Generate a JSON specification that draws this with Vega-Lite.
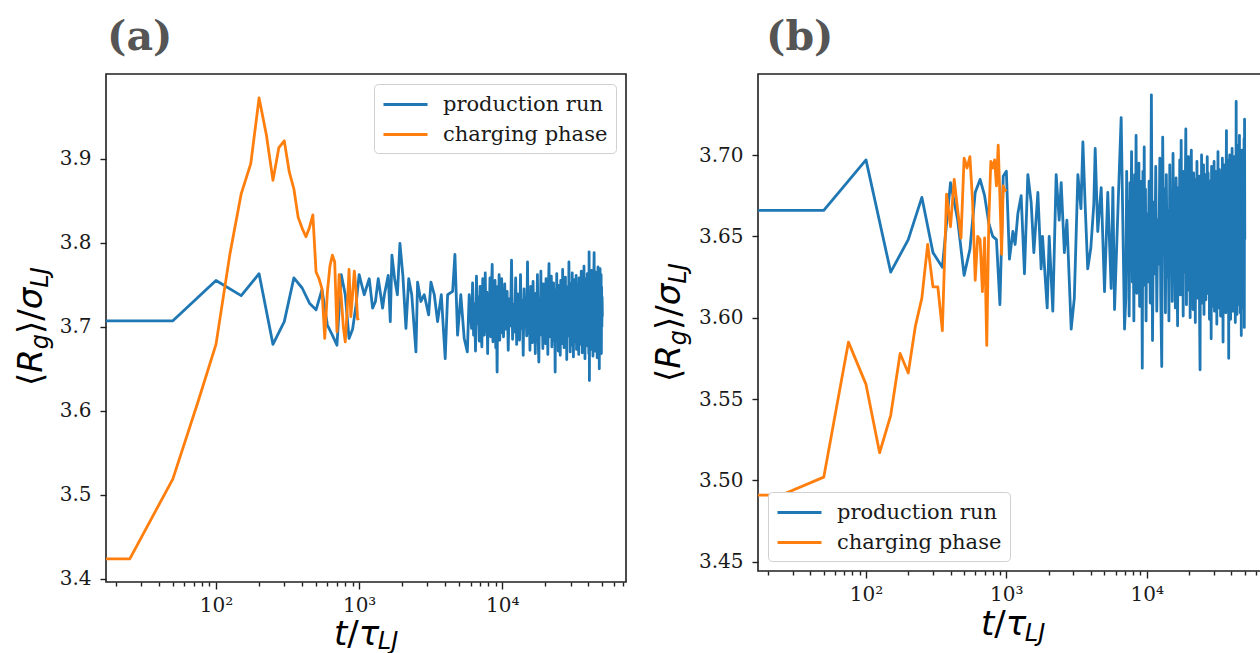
{
  "$schema": "https://vega.github.io/schema/vega-lite/v6.json",
  "background": "white",
  "padding": {"left": 14, "top": 16, "right": 0, "bottom": 0},
  "bounds": "flush",
  "spacing": 132,
  "resolve": {"legend": {"color": "independent"}},
  "config": {
    "view": {"stroke": "#1f1f1f", "strokeWidth": 1.6},
    "axis": {"domain": false, "grid": false, "labelFont": "DejaVu Serif", "labelFontSize": 20, "labelColor": "#1a1a1a", "tickColor": "#1f1f1f", "tickWidth": 1.4, "labelFlush": false, "labelOverlap": false},
    "legend": {"labelFont": "DejaVu Serif", "labelFontSize": 21, "labelColor": "#1a1a1a", "labelLimit": 400, "fillColor": "white", "strokeColor": "#d0d0d0", "cornerRadius": 4, "padding": 8, "symbolType": "M-1,0H3", "symbolSize": 484, "symbolStrokeWidth": 2.8, "labelOffset": 36, "rowPadding": 7}
  },
  "datasets": {
    "prodA": [{"t":10,"r":3.707},{"t":50,"r":3.707},{"t":100,"r":3.755},{"t":150,"r":3.737},{"t":200,"r":3.763},{"t":250,"r":3.679},{"t":300,"r":3.706},{"t":350,"r":3.758},{"t":400,"r":3.746},{"t":450,"r":3.728},{"t":500,"r":3.72},{"t":550,"r":3.744},{"t":600,"r":3.702},{"t":650,"r":3.69},{"t":700,"r":3.678},{"t":750,"r":3.762},{"t":800,"r":3.738},{"t":850,"r":3.686},{"t":900,"r":3.697},{"t":950,"r":3.725},{"t":1000,"r":3.762},{"t":1085,"r":3.738},{"t":1176,"r":3.757},{"t":1242,"r":3.722},{"t":1300,"r":3.73},{"t":1360,"r":3.757},{"t":1459,"r":3.722},{"t":1500,"r":3.738},{"t":1597,"r":3.761},{"t":1650,"r":3.706},{"t":1694,"r":3.785},{"t":1770,"r":3.757},{"t":1850,"r":3.738},{"t":1927,"r":3.799},{"t":2020,"r":3.761},{"t":2123,"r":3.698},{"t":2220,"r":3.757},{"t":2330,"r":3.738},{"t":2493,"r":3.67},{"t":2560,"r":3.753},{"t":2700,"r":3.73},{"t":2850,"r":3.738},{"t":3060,"r":3.714},{"t":3173,"r":3.753},{"t":3350,"r":3.738},{"t":3532,"r":3.706},{"t":3750,"r":3.738},{"t":3992,"r":3.662},{"t":4150,"r":3.738},{"t":4500,"r":3.742},{"t":4667,"r":3.786},{"t":4870,"r":3.69},{"t":5130,"r":3.738},{"t":5420,"r":3.686},{"t":5700,"r":3.67},{"t":5870,"r":3.738},
      {"t":6100,"r":3.698},{"t":6200,"r":3.752},{"t":6300,"r":3.69},{"t":6400,"r":3.727},{"t":6500,"r":3.671},{"t":6600,"r":3.76},{"t":6700,"r":3.704},{"t":6800,"r":3.735},{"t":6900,"r":3.683},{"t":7000,"r":3.748},{"t":7100,"r":3.7},{"t":7200,"r":3.676},{"t":7300,"r":3.757},{"t":7400,"r":3.712},{"t":7500,"r":3.69},{"t":7600,"r":3.764},{"t":7700,"r":3.695},{"t":7800,"r":3.741},{"t":7900,"r":3.668},{"t":8000,"r":3.731},{"t":8100,"r":3.705},{"t":8200,"r":3.758},{"t":8300,"r":3.688},{"t":8400,"r":3.743},{"t":8500,"r":3.774},{"t":8600,"r":3.682},{"t":8700,"r":3.732},{"t":8800,"r":3.697},{"t":8900,"r":3.755},{"t":9000,"r":3.675},{"t":9100,"r":3.72},{"t":9200,"r":3.646},{"t":9300,"r":3.748},{"t":9400,"r":3.702},{"t":9500,"r":3.762},{"t":9600,"r":3.684},{"t":9700,"r":3.74},{"t":9800,"r":3.693},{"t":9900,"r":3.757},{"t":10000,"r":3.71},
      {"t":10200,"r":3.688},{"t":10400,"r":3.751},{"t":10600,"r":3.697},{"t":10800,"r":3.742},{"t":11000,"r":3.672},{"t":11200,"r":3.733},{"t":11400,"r":3.701},{"t":11600,"r":3.779},{"t":11800,"r":3.685},{"t":12000,"r":3.726},
      {"t":12200,"r":3.694},{"t":12400,"r":3.758},{"t":12600,"r":3.679},{"t":12800,"r":3.739},{"t":13000,"r":3.707},{"t":13200,"r":3.684},{"t":13400,"r":3.762},{"t":13600,"r":3.698},{"t":13800,"r":3.731},{"t":14000,"r":3.666},
      {"t":14200,"r":3.745},{"t":14400,"r":3.703},{"t":14600,"r":3.727},{"t":14800,"r":3.689},{"t":15000,"r":3.777},{"t":15200,"r":3.692},{"t":15400,"r":3.736},{"t":15600,"r":3.672},{"t":15800,"r":3.748},{"t":16000,"r":3.71},
      {"t":16200,"r":3.681},{"t":16400,"r":3.754},{"t":16600,"r":3.699},{"t":16800,"r":3.724},{"t":17000,"r":3.668},{"t":17200,"r":3.74},{"t":17400,"r":3.706},{"t":17600,"r":3.762},{"t":17800,"r":3.686},{"t":18000,"r":3.658},
      {"t":18200,"r":3.734},{"t":18400,"r":3.697},{"t":18600,"r":3.766},{"t":18800,"r":3.69},{"t":19000,"r":3.729},{"t":19200,"r":3.674},{"t":19400,"r":3.751},{"t":19600,"r":3.702},{"t":19800,"r":3.738},{"t":20000,"r":3.68},
      {"t":20200,"r":3.757},{"t":20400,"r":3.694},{"t":20600,"r":3.721},{"t":20800,"r":3.667},{"t":21000,"r":3.746},{"t":21200,"r":3.775},{"t":21400,"r":3.688},{"t":21600,"r":3.733},{"t":21800,"r":3.699},{"t":22000,"r":3.76},
      {"t":22200,"r":3.676},{"t":22400,"r":3.739},{"t":22600,"r":3.704},{"t":22800,"r":3.752},{"t":23000,"r":3.683},{"t":23200,"r":3.726},{"t":23400,"r":3.646},{"t":23600,"r":3.744},{"t":23800,"r":3.695},{"t":24000,"r":3.763},
      {"t":24200,"r":3.687},{"t":24400,"r":3.73},{"t":24600,"r":3.671},{"t":24800,"r":3.749},{"t":25000,"r":3.703},{"t":25200,"r":3.737},{"t":25400,"r":3.666},{"t":25600,"r":3.755},{"t":25800,"r":3.692},{"t":26000,"r":3.728},
      {"t":26200,"r":3.68},{"t":26400,"r":3.768},{"t":26600,"r":3.698},{"t":26800,"r":3.741},{"t":27000,"r":3.675},{"t":27200,"r":3.733},{"t":27400,"r":3.707},{"t":27600,"r":3.759},{"t":27800,"r":3.684},{"t":28000,"r":3.722},
      {"t":28200,"r":3.661},{"t":28400,"r":3.747},{"t":28600,"r":3.7},{"t":28800,"r":3.736},{"t":29000,"r":3.689},{"t":29200,"r":3.777},{"t":29400,"r":3.694},{"t":29600,"r":3.729},{"t":29800,"r":3.67},{"t":30000,"r":3.751},
      {"t":30200,"r":3.705},{"t":30400,"r":3.739},{"t":30600,"r":3.678},{"t":30800,"r":3.764},{"t":31000,"r":3.691},{"t":31200,"r":3.725},{"t":31400,"r":3.664},{"t":31600,"r":3.743},{"t":31800,"r":3.699},{"t":32000,"r":3.756},
      {"t":32200,"r":3.682},{"t":32400,"r":3.731},{"t":32600,"r":3.708},{"t":32800,"r":3.761},{"t":33000,"r":3.673},{"t":33200,"r":3.738},{"t":33400,"r":3.696},{"t":33600,"r":3.75},{"t":33800,"r":3.686},{"t":34000,"r":3.727},
      {"t":34200,"r":3.667},{"t":34400,"r":3.758},{"t":34600,"r":3.701},{"t":34800,"r":3.74},{"t":35000,"r":3.679},{"t":35200,"r":3.734},{"t":35400,"r":3.693},{"t":35600,"r":3.766},{"t":35800,"r":3.688},{"t":36000,"r":3.724},
      {"t":36200,"r":3.669},{"t":36400,"r":3.749},{"t":36600,"r":3.704},{"t":36800,"r":3.737},{"t":37000,"r":3.676},{"t":37200,"r":3.772},{"t":37400,"r":3.69},{"t":37600,"r":3.73},{"t":37800,"r":3.662},{"t":38000,"r":3.745},
      {"t":38200,"r":3.698},{"t":38400,"r":3.757},{"t":38600,"r":3.683},{"t":38800,"r":3.735},{"t":39000,"r":3.705},{"t":39200,"r":3.763},{"t":39400,"r":3.677},{"t":39600,"r":3.741},{"t":39800,"r":3.694},{"t":40000,"r":3.728},
      {"t":40200,"r":3.668},{"t":40400,"r":3.789},{"t":40600,"r":3.636},{"t":40800,"r":3.744},{"t":41000,"r":3.692},{"t":41200,"r":3.752},{"t":41400,"r":3.68},{"t":41600,"r":3.733},{"t":41800,"r":3.699},{"t":42000,"r":3.767},
      {"t":42200,"r":3.673},{"t":42400,"r":3.738},{"t":42600,"r":3.706},{"t":42800,"r":3.755},{"t":43000,"r":3.665},{"t":43200,"r":3.731},{"t":43400,"r":3.694},{"t":43600,"r":3.76},{"t":43800,"r":3.788},{"t":44000,"r":3.683},
      {"t":44200,"r":3.727},{"t":44400,"r":3.671},{"t":44600,"r":3.748},{"t":44800,"r":3.697},{"t":45000,"r":3.765},{"t":45200,"r":3.681},{"t":45400,"r":3.736},{"t":45600,"r":3.702},{"t":45800,"r":3.759},{"t":46000,"r":3.663},
      {"t":46200,"r":3.742},{"t":46400,"r":3.689},{"t":46600,"r":3.771},{"t":46800,"r":3.678},{"t":47000,"r":3.733},{"t":47200,"r":3.696},{"t":47400,"r":3.754},{"t":47600,"r":3.65},{"t":47800,"r":3.74},{"t":48000,"r":3.69},
      {"t":48200,"r":3.769},{"t":48400,"r":3.675},{"t":48600,"r":3.731},{"t":48800,"r":3.684},{"t":49000,"r":3.762},{"t":49200,"r":3.668},{"t":49400,"r":3.747},{"t":49600,"r":3.7},{"t":49800,"r":3.735},{"t":50000,"r":3.712}],
    "chargeA": [{"t":10,"r":3.424},{"t":25,"r":3.424},{"t":50,"r":3.519},{"t":75,"r":3.611},{"t":100,"r":3.679},{"t":125,"r":3.786},{"t":150,"r":3.858},{"t":175,"r":3.894},{"t":200,"r":3.972},{"t":225,"r":3.928},{"t":250,"r":3.874},{"t":275,"r":3.913},{"t":300,"r":3.921},{"t":325,"r":3.884},{"t":350,"r":3.864},{"t":375,"r":3.83},{"t":400,"r":3.817},{"t":425,"r":3.807},{"t":450,"r":3.818},{"t":475,"r":3.833},{"t":500,"r":3.765},{"t":525,"r":3.757},{"t":550,"r":3.745},{"t":575,"r":3.686},{"t":600,"r":3.741},{"t":625,"r":3.772},{"t":650,"r":3.785},{"t":675,"r":3.777},{"t":700,"r":3.694},{"t":725,"r":3.762},{"t":750,"r":3.735},{"t":775,"r":3.7},{"t":800,"r":3.682},{"t":825,"r":3.72},{"t":850,"r":3.768},{"t":875,"r":3.712},{"t":900,"r":3.738},{"t":925,"r":3.766},{"t":950,"r":3.745},{"t":975,"r":3.709},{"t":1000,"r":3.71}],
    "prodB": [{"t":10,"r":3.666},{"t":50,"r":3.666},{"t":100,"r":3.697},{"t":150,"r":3.628},{"t":200,"r":3.648},{"t":250,"r":3.674},{"t":300,"r":3.64},{"t":350,"r":3.631},{"t":400,"r":3.683},{"t":450,"r":3.66},{"t":500,"r":3.626},{"t":550,"r":3.642},{"t":600,"r":3.677},{"t":650,"r":3.685},{"t":700,"r":3.675},{"t":750,"r":3.658},{"t":800,"r":3.65},{"t":850,"r":3.648},{"t":900,"r":3.608},{"t":950,"r":3.687},{"t":1000,"r":3.69},{"t":1052,"r":3.636},{"t":1113,"r":3.653},{"t":1155,"r":3.645},{"t":1208,"r":3.664},{"t":1275,"r":3.675},{"t":1346,"r":3.627},{"t":1423,"r":3.688},{"t":1502,"r":3.671},{"t":1570,"r":3.64},{"t":1677,"r":3.677},{"t":1770,"r":3.63},{"t":1810,"r":3.65},{"t":1954,"r":3.606},{"t":2020,"r":3.65},{"t":2143,"r":3.604},{"t":2264,"r":3.688},{"t":2380,"r":3.66},{"t":2458,"r":3.683},{"t":2590,"r":3.64},{"t":2700,"r":3.66},{"t":2897,"r":3.593},{"t":3050,"r":3.612},{"t":3233,"r":3.688},{"t":3400,"r":3.667},{"t":3510,"r":3.708},{"t":3640,"r":3.67},{"t":3800,"r":3.63},{"t":4000,"r":3.643},{"t":4200,"r":3.67},{"t":4295,"r":3.704},{"t":4480,"r":3.653},{"t":4740,"r":3.68},{"t":5005,"r":3.616},{"t":5280,"r":3.677},{"t":5580,"r":3.618},{"t":5740,"r":3.68},{"t":5900,"r":3.605},{"t":6230,"r":3.665},{"t":6577,"r":3.723},{"t":6950,"r":3.593},
      {"t":7100,"r":3.612},{"t":7200,"r":3.69},{"t":7300,"r":3.628},{"t":7400,"r":3.671},{"t":7500,"r":3.601},{"t":7600,"r":3.683},{"t":7700,"r":3.64},{"t":7800,"r":3.702},{"t":7900,"r":3.622},{"t":8000,"r":3.667},{"t":8100,"r":3.598},{"t":8200,"r":3.688},{"t":8300,"r":3.634},{"t":8400,"r":3.712},{"t":8500,"r":3.615},{"t":8600,"r":3.676},{"t":8700,"r":3.643},{"t":8800,"r":3.695},{"t":8900,"r":3.607},{"t":9000,"r":3.684},{"t":9100,"r":3.626},{"t":9200,"r":3.661},{"t":9300,"r":3.569},{"t":9400,"r":3.69},{"t":9500,"r":3.62},{"t":9600,"r":3.705},{"t":9700,"r":3.632},{"t":9800,"r":3.679},{"t":9900,"r":3.598},{"t":10000,"r":3.664},
      {"t":10200,"r":3.622},{"t":10400,"r":3.684},{"t":10600,"r":3.609},{"t":10800,"r":3.737},{"t":11000,"r":3.586},{"t":11200,"r":3.671},{"t":11400,"r":3.627},{"t":11600,"r":3.693},{"t":11800,"r":3.604},{"t":12000,"r":3.66},
      {"t":12200,"r":3.633},{"t":12400,"r":3.698},{"t":12600,"r":3.612},{"t":12800,"r":3.57},{"t":13000,"r":3.711},{"t":13200,"r":3.641},{"t":13400,"r":3.679},{"t":13600,"r":3.603},{"t":13800,"r":3.688},{"t":14000,"r":3.625},
      {"t":14200,"r":3.666},{"t":14400,"r":3.598},{"t":14600,"r":3.694},{"t":14800,"r":3.637},{"t":15000,"r":3.675},{"t":15200,"r":3.61},{"t":15400,"r":3.701},{"t":15600,"r":3.631},{"t":15800,"r":3.662},{"t":16000,"r":3.606},
      {"t":16200,"r":3.686},{"t":16400,"r":3.644},{"t":16600,"r":3.595},{"t":16800,"r":3.68},{"t":17000,"r":3.623},{"t":17200,"r":3.697},{"t":17400,"r":3.614},{"t":17600,"r":3.709},{"t":17800,"r":3.635},{"t":18000,"r":3.668},
      {"t":18200,"r":3.601},{"t":18400,"r":3.69},{"t":18600,"r":3.628},{"t":18800,"r":3.673},{"t":19000,"r":3.716},{"t":19200,"r":3.608},{"t":19400,"r":3.683},{"t":19600,"r":3.639},{"t":19800,"r":3.699},{"t":20000,"r":3.617},
      {"t":20200,"r":3.664},{"t":20400,"r":3.6},{"t":20600,"r":3.692},{"t":20800,"r":3.703},{"t":21000,"r":3.626},{"t":21200,"r":3.677},{"t":21400,"r":3.605},{"t":21600,"r":3.689},{"t":21800,"r":3.642},{"t":22000,"r":3.67},
      {"t":22200,"r":3.597},{"t":22400,"r":3.685},{"t":22600,"r":3.632},{"t":22800,"r":3.696},{"t":23000,"r":3.612},{"t":23200,"r":3.658},{"t":23400,"r":3.621},{"t":23600,"r":3.687},{"t":23800,"r":3.603},{"t":24000,"r":3.568},
      {"t":24200,"r":3.681},{"t":24400,"r":3.636},{"t":24600,"r":3.7},{"t":24800,"r":3.609},{"t":25000,"r":3.672},{"t":25200,"r":3.63},{"t":25400,"r":3.694},{"t":25600,"r":3.602},{"t":25800,"r":3.667},{"t":26000,"r":3.624},
      {"t":26200,"r":3.688},{"t":26400,"r":3.611},{"t":26600,"r":3.676},{"t":26800,"r":3.645},{"t":27000,"r":3.699},{"t":27200,"r":3.615},{"t":27400,"r":3.689},{"t":27600,"r":3.629},{"t":27800,"r":3.661},{"t":28000,"r":3.599},
      {"t":28200,"r":3.684},{"t":28400,"r":3.637},{"t":28600,"r":3.671},{"t":28800,"r":3.587},{"t":29000,"r":3.693},{"t":29200,"r":3.62},{"t":29400,"r":3.665},{"t":29600,"r":3.607},{"t":29800,"r":3.686},{"t":30000,"r":3.641},
      {"t":30200,"r":3.696},{"t":30400,"r":3.604},{"t":30600,"r":3.674},{"t":30800,"r":3.628},{"t":31000,"r":3.69},{"t":31200,"r":3.613},{"t":31400,"r":3.66},{"t":31600,"r":3.596},{"t":31800,"r":3.683},{"t":32000,"r":3.634},
      {"t":32200,"r":3.702},{"t":32400,"r":3.618},{"t":32600,"r":3.669},{"t":32800,"r":3.606},{"t":33000,"r":3.691},{"t":33200,"r":3.639},{"t":33400,"r":3.677},{"t":33600,"r":3.601},{"t":33800,"r":3.687},{"t":34000,"r":3.625},
      {"t":34200,"r":3.663},{"t":34400,"r":3.61},{"t":34600,"r":3.698},{"t":34800,"r":3.632},{"t":35000,"r":3.585},{"t":35200,"r":3.679},{"t":35400,"r":3.622},{"t":35600,"r":3.694},{"t":35800,"r":3.608},{"t":36000,"r":3.67},
      {"t":36200,"r":3.635},{"t":36400,"r":3.689},{"t":36600,"r":3.603},{"t":36800,"r":3.682},{"t":37000,"r":3.715},{"t":37200,"r":3.617},{"t":37400,"r":3.666},{"t":37600,"r":3.627},{"t":37800,"r":3.697},{"t":38000,"r":3.605},
      {"t":38200,"r":3.673},{"t":38400,"r":3.575},{"t":38600,"r":3.686},{"t":38800,"r":3.631},{"t":39000,"r":3.7},{"t":39200,"r":3.614},{"t":39400,"r":3.662},{"t":39600,"r":3.599},{"t":39800,"r":3.691},{"t":40000,"r":3.638},
      {"t":40200,"r":3.676},{"t":40400,"r":3.609},{"t":40600,"r":3.704},{"t":40800,"r":3.623},{"t":41000,"r":3.668},{"t":41200,"r":3.604},{"t":41400,"r":3.695},{"t":41600,"r":3.64},{"t":41800,"r":3.681},{"t":42000,"r":3.611},
      {"t":42200,"r":3.699},{"t":42400,"r":3.626},{"t":42600,"r":3.664},{"t":42800,"r":3.597},{"t":43000,"r":3.69},{"t":43200,"r":3.633},{"t":43400,"r":3.733},{"t":43600,"r":3.615},{"t":43800,"r":3.678},{"t":44000,"r":3.602},
      {"t":44200,"r":3.694},{"t":44400,"r":3.637},{"t":44600,"r":3.671},{"t":44800,"r":3.608},{"t":45000,"r":3.706},{"t":45200,"r":3.621},{"t":45400,"r":3.685},{"t":45600,"r":3.63},{"t":45800,"r":3.712},{"t":46000,"r":3.612},
      {"t":46200,"r":3.674},{"t":46400,"r":3.603},{"t":46600,"r":3.697},{"t":46800,"r":3.639},{"t":47000,"r":3.665},{"t":47200,"r":3.589},{"t":47400,"r":3.692},{"t":47600,"r":3.624},{"t":47800,"r":3.703},{"t":48000,"r":3.61},
      {"t":48200,"r":3.681},{"t":48400,"r":3.635},{"t":48600,"r":3.698},{"t":48800,"r":3.606},{"t":49000,"r":3.676},{"t":49200,"r":3.628},{"t":49400,"r":3.71},{"t":49600,"r":3.594},{"t":49800,"r":3.722},{"t":50000,"r":3.648}],
    "chargeB": [{"t":10,"r":3.491},{"t":25,"r":3.491},{"t":50,"r":3.502},{"t":75,"r":3.585},{"t":100,"r":3.559},{"t":125,"r":3.517},{"t":150,"r":3.54},{"t":175,"r":3.578},{"t":200,"r":3.566},{"t":225,"r":3.595},{"t":250,"r":3.612},{"t":275,"r":3.645},{"t":300,"r":3.619},{"t":325,"r":3.619},{"t":350,"r":3.592},{"t":375,"r":3.676},{"t":400,"r":3.656},{"t":425,"r":3.685},{"t":450,"r":3.666},{"t":475,"r":3.649},{"t":500,"r":3.698},{"t":525,"r":3.692},{"t":550,"r":3.699},{"t":575,"r":3.671},{"t":600,"r":3.623},{"t":625,"r":3.65},{"t":650,"r":3.648},{"t":675,"r":3.616},{"t":700,"r":3.649},{"t":725,"r":3.583},{"t":750,"r":3.66},{"t":775,"r":3.696},{"t":800,"r":3.692},{"t":825,"r":3.697},{"t":850,"r":3.681},{"t":875,"r":3.706},{"t":900,"r":3.674},{"t":925,"r":3.639},{"t":950,"r":3.681},{"t":975,"r":3.678},{"t":1000,"r":3.679}]
  },
  "hconcat": [
    {
      "width": 520,
      "height": 508,
      "layer": [
        {
          "data": {"name": "prodA"},
          "mark": {"type": "line", "clip": true, "strokeWidth": 2.8, "strokeJoin": "round"},
          "encoding": {
            "x": {"field": "t", "type": "quantitative", "scale": {"type": "log", "domain": [17.05, 73130], "nice": false},
              "axis": {"title": null, "values": [20,30,40,50,60,70,80,90,100,200,300,400,500,600,700,800,900,1000,2000,3000,4000,5000,6000,7000,8000,9000,10000,20000,30000,40000,50000,60000,70000],
                "labelExpr": "datum.value === 100 ? '10²' : datum.value === 1000 ? '10³' : datum.value === 10000 ? '10⁴' : ''",
                "tickSize": {"condition": {"test": "datum.value === 100 || datum.value === 1000 || datum.value === 10000", "value": 7}, "value": 4},
                "labelPadding": 6}},
            "y": {"field": "r", "type": "quantitative", "scale": {"domain": [3.3964, 4.0005], "nice": false, "zero": false},
              "axis": {"title": null, "values": [3.4,3.5,3.6,3.7,3.8,3.9], "format": ".1f", "tickSize": 6, "labelPadding": 9}},
            "color": {"datum": "production run", "type": "nominal", "scale": {"domain": ["production run", "charging phase"], "range": ["#1f77b4", "#ff7f0e"]}, "legend": {"title": null, "orient": "top-right", "offset": 10}}
          }
        },
        {
          "data": {"name": "chargeA"},
          "mark": {"type": "line", "clip": true, "strokeWidth": 2.8, "strokeJoin": "round"},
          "encoding": {
            "x": {"field": "t", "type": "quantitative"},
            "y": {"field": "r", "type": "quantitative"},
            "color": {"datum": "charging phase", "type": "nominal"}
          }
        },
        {"data": {"values": [{}]}, "mark": {"type": "text", "text": "(a)", "font": "DejaVu Serif", "fontWeight": "bold", "fontSize": 41, "color": "#555555", "align": "left", "baseline": "alphabetic"}, "encoding": {"x": {"value": 1}, "y": {"value": -24}}},
        {"data": {"values": [{}]}, "mark": {"type": "text", "text": "⟨", "font": "DejaVu Sans", "fontSize": 34, "color": "#000", "angle": 270, "align": "left", "baseline": "alphabetic", "dx": 0}, "encoding": {"x": {"value": -64}, "y": {"value": 312}}},
        {"data": {"values": [{}]}, "mark": {"type": "text", "text": "R", "font": "DejaVu Sans", "fontStyle": "italic", "fontSize": 34, "color": "#000", "angle": 270, "align": "left", "baseline": "alphabetic", "dx": 13.3}, "encoding": {"x": {"value": -64}, "y": {"value": 312}}},
        {"data": {"values": [{}]}, "mark": {"type": "text", "text": "g", "font": "DejaVu Sans", "fontStyle": "italic", "fontSize": 24, "color": "#000", "angle": 270, "align": "left", "baseline": "alphabetic", "dx": 36.8, "dy": 6}, "encoding": {"x": {"value": -64}, "y": {"value": 312}}},
        {"data": {"values": [{}]}, "mark": {"type": "text", "text": "⟩/", "font": "DejaVu Sans", "fontSize": 34, "color": "#000", "angle": 270, "align": "left", "baseline": "alphabetic", "dx": 51.9}, "encoding": {"x": {"value": -64}, "y": {"value": 312}}},
        {"data": {"values": [{}]}, "mark": {"type": "text", "text": "σ", "font": "DejaVu Sans", "fontStyle": "italic", "fontSize": 34, "color": "#000", "angle": 270, "align": "left", "baseline": "alphabetic", "dx": 76.7}, "encoding": {"x": {"value": -64}, "y": {"value": 312}}},
        {"data": {"values": [{}]}, "mark": {"type": "text", "text": "LJ", "font": "DejaVu Sans", "fontStyle": "italic", "fontSize": 24, "color": "#000", "angle": 270, "align": "left", "baseline": "alphabetic", "dx": 98.3, "dy": 6}, "encoding": {"x": {"value": -64}, "y": {"value": 312}}},
        {"data": {"values": [{}]}, "mark": {"type": "text", "text": "t", "font": "DejaVu Sans", "fontStyle": "italic", "fontSize": 34, "color": "#000", "align": "left", "baseline": "alphabetic", "dx": 0}, "encoding": {"x": {"value": 228}, "y": {"value": 571}}},
        {"data": {"values": [{}]}, "mark": {"type": "text", "text": "/", "font": "DejaVu Sans", "fontSize": 34, "color": "#000", "align": "left", "baseline": "alphabetic", "dx": 13.3}, "encoding": {"x": {"value": 228}, "y": {"value": 571}}},
        {"data": {"values": [{}]}, "mark": {"type": "text", "text": "τ", "font": "DejaVu Sans", "fontStyle": "italic", "fontSize": 34, "color": "#000", "align": "left", "baseline": "alphabetic", "dx": 24.8}, "encoding": {"x": {"value": 228}, "y": {"value": 571}}},
        {"data": {"values": [{}]}, "mark": {"type": "text", "text": "LJ", "font": "DejaVu Sans", "fontStyle": "italic", "fontSize": 24, "color": "#000", "align": "left", "baseline": "alphabetic", "dx": 43.8, "dy": 4}, "encoding": {"x": {"value": 228}, "y": {"value": 571}}}
      ]
    },
    {
      "width": 510,
      "height": 497,
      "layer": [
        {
          "data": {"name": "prodB"},
          "mark": {"type": "line", "clip": true, "strokeWidth": 2.8, "strokeJoin": "round"},
          "encoding": {
            "x": {"field": "t", "type": "quantitative", "scale": {"type": "log", "domain": [17.0, 73160], "nice": false},
              "axis": {"title": null, "values": [20,30,40,50,60,70,80,90,100,200,300,400,500,600,700,800,900,1000,2000,3000,4000,5000,6000,7000,8000,9000,10000,20000,30000,40000,50000,60000,70000],
                "labelExpr": "datum.value === 100 ? '10²' : datum.value === 1000 ? '10³' : datum.value === 10000 ? '10⁴' : ''",
                "tickSize": {"condition": {"test": "datum.value === 100 || datum.value === 1000 || datum.value === 10000", "value": 7}, "value": 4},
                "labelPadding": 6}},
            "y": {"field": "r", "type": "quantitative", "scale": {"domain": [3.4443, 3.7498], "nice": false, "zero": false},
              "axis": {"title": null, "values": [3.45,3.5,3.55,3.6,3.65,3.7], "format": ".2f", "tickSize": 6, "labelPadding": 9}},
            "color": {"datum": "production run", "type": "nominal", "scale": {"domain": ["production run", "charging phase"], "range": ["#1f77b4", "#ff7f0e"]}, "legend": {"title": null, "orient": "bottom-left", "offset": 10}}
          }
        },
        {
          "data": {"name": "chargeB"},
          "mark": {"type": "line", "clip": true, "strokeWidth": 2.8, "strokeJoin": "round"},
          "encoding": {
            "x": {"field": "t", "type": "quantitative"},
            "y": {"field": "r", "type": "quantitative"},
            "color": {"datum": "charging phase", "type": "nominal"}
          }
        },
        {"data": {"values": [{}]}, "mark": {"type": "text", "text": "(b)", "font": "DejaVu Serif", "fontWeight": "bold", "fontSize": 41, "color": "#555555", "align": "left", "baseline": "alphabetic"}, "encoding": {"x": {"value": 8}, "y": {"value": -24}}},
        {"data": {"values": [{}]}, "mark": {"type": "text", "text": "⟨", "font": "DejaVu Sans", "fontSize": 34, "color": "#000", "angle": 270, "align": "left", "baseline": "alphabetic", "dx": 0}, "encoding": {"x": {"value": -78}, "y": {"value": 308}}},
        {"data": {"values": [{}]}, "mark": {"type": "text", "text": "R", "font": "DejaVu Sans", "fontStyle": "italic", "fontSize": 34, "color": "#000", "angle": 270, "align": "left", "baseline": "alphabetic", "dx": 13.3}, "encoding": {"x": {"value": -78}, "y": {"value": 308}}},
        {"data": {"values": [{}]}, "mark": {"type": "text", "text": "g", "font": "DejaVu Sans", "fontStyle": "italic", "fontSize": 24, "color": "#000", "angle": 270, "align": "left", "baseline": "alphabetic", "dx": 36.8, "dy": 6}, "encoding": {"x": {"value": -78}, "y": {"value": 308}}},
        {"data": {"values": [{}]}, "mark": {"type": "text", "text": "⟩/", "font": "DejaVu Sans", "fontSize": 34, "color": "#000", "angle": 270, "align": "left", "baseline": "alphabetic", "dx": 51.9}, "encoding": {"x": {"value": -78}, "y": {"value": 308}}},
        {"data": {"values": [{}]}, "mark": {"type": "text", "text": "σ", "font": "DejaVu Sans", "fontStyle": "italic", "fontSize": 34, "color": "#000", "angle": 270, "align": "left", "baseline": "alphabetic", "dx": 76.7}, "encoding": {"x": {"value": -78}, "y": {"value": 308}}},
        {"data": {"values": [{}]}, "mark": {"type": "text", "text": "LJ", "font": "DejaVu Sans", "fontStyle": "italic", "fontSize": 24, "color": "#000", "angle": 270, "align": "left", "baseline": "alphabetic", "dx": 98.3, "dy": 6}, "encoding": {"x": {"value": -78}, "y": {"value": 308}}},
        {"data": {"values": [{}]}, "mark": {"type": "text", "text": "t", "font": "DejaVu Sans", "fontStyle": "italic", "fontSize": 34, "color": "#000", "align": "left", "baseline": "alphabetic", "dx": 0}, "encoding": {"x": {"value": 223}, "y": {"value": 561}}},
        {"data": {"values": [{}]}, "mark": {"type": "text", "text": "/", "font": "DejaVu Sans", "fontSize": 34, "color": "#000", "align": "left", "baseline": "alphabetic", "dx": 13.3}, "encoding": {"x": {"value": 223}, "y": {"value": 561}}},
        {"data": {"values": [{}]}, "mark": {"type": "text", "text": "τ", "font": "DejaVu Sans", "fontStyle": "italic", "fontSize": 34, "color": "#000", "align": "left", "baseline": "alphabetic", "dx": 24.8}, "encoding": {"x": {"value": 223}, "y": {"value": 561}}},
        {"data": {"values": [{}]}, "mark": {"type": "text", "text": "LJ", "font": "DejaVu Sans", "fontStyle": "italic", "fontSize": 24, "color": "#000", "align": "left", "baseline": "alphabetic", "dx": 43.8, "dy": 6}, "encoding": {"x": {"value": 223}, "y": {"value": 561}}}
      ]
    }
  ]
}
